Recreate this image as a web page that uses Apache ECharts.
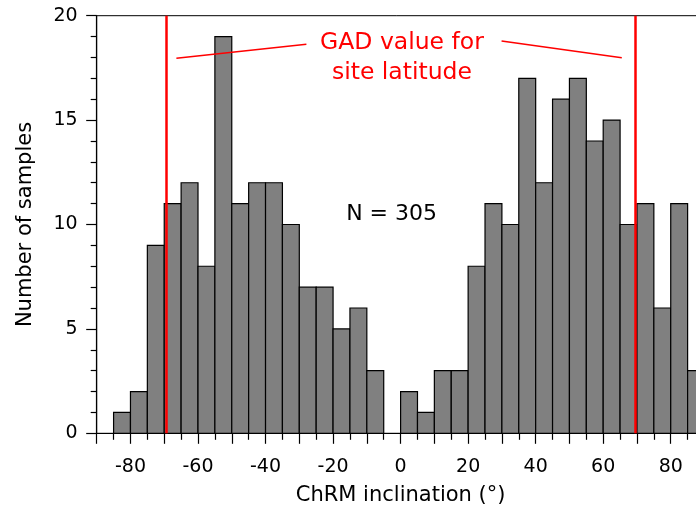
<!DOCTYPE html>
<html><head><meta charset="utf-8">
<script src="https://cdn.jsdelivr.net/npm/echarts@6/dist/echarts.min.js"></script>
<style>html,body{margin:0;padding:0;background:#fff}#c{width:696px;height:516px}</style>
</head><body><div id="c"></div>
<script>
// Histogram bins (degrees) and sample counts
const binStarts = [-90,-85,-80,-75,-70,-65,-60,-55,-50,-45,-40,-35,-30,-25,-20,-15,-10,-5,0,5,10,15,20,25,30,35,40,45,50,55,60,65,70,75,80,85];
const binWidth = 5;
const counts = [0,1,2,9,11,12,8,19,11,12,12,10,7,7,5,6,3,0,2,1,3,3,8,11,10,17,12,16,17,14,15,10,11,6,11,3];
const gadInclinations = [-69.5, 69.5];
const annotationText = 'GAD value for\nsite latitude';
const countText = 'N = 305';
const xName = 'ChRM inclination (°)';
const yName = 'Number of samples';

const FONT = 'DejaVu Sans';
const data = binStarts.map((s, i) => [s, s + binWidth, counts[i]]);

const chart = echarts.init(document.getElementById('c'), null, {renderer: 'canvas'});
chart.setOption({
  animation: false,
  backgroundColor: '#fff',
  grid: {left: 96.7, top: 15.7, bottom: 82.7, width: 607.8, outerBoundsMode: 'none', containLabel: false,
    show: true, borderColor: '#000', borderWidth: 1, backgroundColor: 'transparent'},
  xAxis: {
    type: 'value', min: -90, max: 90, interval: 10,
    name: xName, nameLocation: 'middle', nameGap: 52,
    nameTextStyle: {fontFamily: FONT, fontSize: 21, color: '#000'},
    axisLine: {show: true, onZero: false, lineStyle: {color: '#000', width: 1.2}},
    axisTick: {show: true, length: 10.5, lineStyle: {color: '#000', width: 1.2}},
    minorTick: {show: true, splitNumber: 2, length: 6.5, lineStyle: {color: '#000', width: 1.2}},
    splitLine: {show: false}, minorSplitLine: {show: false},
    axisLabel: {fontFamily: FONT, fontSize: 19, color: '#000', margin: 24,
      formatter: v => (v % 20 === 0 ? String(v) : '')}
  },
  yAxis: {
    type: 'value', min: 0, max: 20, interval: 5,
    name: yName, nameLocation: 'middle', nameGap: 61,
    nameTextStyle: {fontFamily: FONT, fontSize: 21, color: '#000'},
    axisLine: {show: true, onZero: false, lineStyle: {color: '#000', width: 1.2}},
    axisTick: {show: true, length: 10.5, lineStyle: {color: '#000', width: 1.2}},
    minorTick: {show: true, splitNumber: 5, length: 6, lineStyle: {color: '#000', width: 1.2}},
    splitLine: {show: false}, minorSplitLine: {show: false},
    axisLabel: {fontFamily: FONT, fontSize: 19, color: '#000', margin: 19}
  },
  series: [{
    type: 'custom',
    data: data,
    encode: {x: [0, 1], y: 2},
    renderItem: function (params, api) {
      const x0 = api.value(0), x1 = api.value(1), c = api.value(2);
      if (!c) return null;
      const p0 = api.coord([x0, c]);
      const p1 = api.coord([x1, 0]);
      return {type: 'rect',
        shape: {x: p0[0], y: p0[1], width: p1[0] - p0[0], height: p1[1] - p0[1]},
        style: {fill: '#808080', stroke: '#000', lineWidth: 1.2}};
    },
    markLine: {
      silent: true, symbol: 'none', z: 10,
      label: {show: false},
      data: [
        ...gadInclinations.map(v => ({xAxis: v, lineStyle: {color: '#ff0000', width: 2.5, type: 'solid'}})),
        [{coord: [-66.4, 17.96]}, {coord: [-27.9, 18.63]}],
        [{coord: [29.9, 18.79]}, {coord: [65.5, 17.99]}]
      ],
      lineStyle: {color: '#ff0000', width: 1.5, type: 'solid'}
    },
    markPoint: {
      silent: true, symbol: 'circle', symbolSize: 0,
      data: [
        {coord: [0.4, 17.98], label: {show: true, position: 'inside', formatter: annotationText,
          fontFamily: FONT, fontSize: 23.5, lineHeight: 30, color: '#ff0000', align: 'center', verticalAlign: 'middle'}},
        {coord: [-2.67, 10.5], label: {show: true, position: 'inside', formatter: countText,
          fontFamily: FONT, fontSize: 22, color: '#000', align: 'center', verticalAlign: 'middle'}}
      ]
    }
  }]
});
</script>
</body></html>
